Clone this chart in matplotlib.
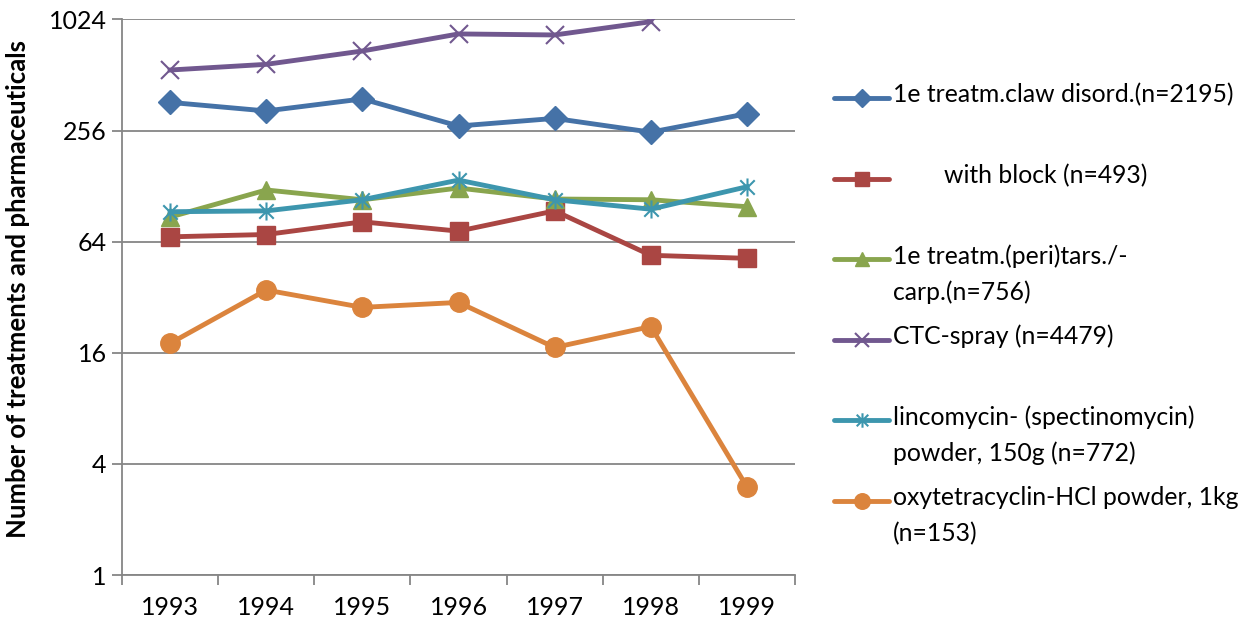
import matplotlib.pyplot as plt
import numpy as np
from matplotlib.path import Path
from matplotlib.lines import Line2D

years = ["1993", "1994", "1995", "1996", "1997", "1998", "1999"]

claw = [364, 327, 380, 271, 298, 251, 316]
block = [68, 70, 82, 73, 94, 54, 52]
tarsal = [87, 122, 108, 125, 109, 108, 99]
ctc = [545, 585, 691, 855, 844, 996, np.nan]
linco = [93, 94, 108, 138, 108, 96, 127]
oxy = [18.0, 35.0, 28.2, 30.0, 17.1, 22.2, 3.0]

labels = [
    "1e treatm.claw disord.(n=2195)",
    "        with block (n=493)",
    "1e treatm.(peri)tars./-\ncarp.(n=756)",
    "CTC-spray (n=4479)",
    "lincomycin- (spectinomycin)\npowder, 150g (n=772)",
    "oxytetracyclin-HCl powder, 1kg\n(n=153)",
]

# asterisk marker: vertical stroke plus an x
star = Path([(0, -1), (0, 1), (-0.8, -0.8), (0.8, 0.8), (-0.8, 0.8), (0.8, -0.8)],
            [Path.MOVETO, Path.LINETO] * 3)

styles = [
    dict(color="#4572A7", marker="D", ms=12),
    dict(color="#AA4643", marker="s", ms=13),
    dict(color="#89A54E", marker="^", ms=13),
    dict(color="#71588F", marker="x", ms=13, mew=1.5),
    dict(color="#3D96AE", marker=star, ms=13, mew=1.5),
    dict(color="#DB843D", marker="o", ms=14),
]
series = [claw, block, tarsal, ctc, linco, oxy]

plt.rcParams["font.family"] = ["Lato", "DejaVu Sans"]

fig = plt.figure(figsize=(12.45, 6.24), dpi=100)
ax = fig.add_axes([0.098, 0.0785, 0.5406, 0.8903])

x = np.arange(len(years))
for vals, st in zip(series, styles):
    ax.plot(x, vals, color=st["color"], lw=3.5, marker=st["marker"],
            ms=st["ms"], mew=st.get("mew", 1), mec=st["color"],
            mfc=st["color"], zorder=3)

ax.set_yscale("log", base=2)
ax.set_ylim(1, 1024)
yt = [1, 4, 16, 64, 256, 1024]
ax.set_yticks(yt)
ax.set_yticklabels([str(v) for v in yt])
ax.minorticks_off()
ax.yaxis.grid(True, color="#868686", lw=1.3)
ax.set_axisbelow(True)

ax.set_xlim(-0.5, len(years) - 0.5)
ax.set_xticks(np.arange(-0.5, len(years)), minor=False)
ax.set_xticklabels([])
ax.set_xticks(x, minor=True)
ax.set_xticklabels(years, minor=True)
ax.tick_params(axis="x", which="major", length=7, color="#868686", width=1.3)
ax.tick_params(axis="x", which="minor", length=0, pad=15, labelsize=18)
ax.tick_params(axis="y", length=7, color="#868686", width=1.3, labelsize=18, pad=4)

for s in ["top", "right"]:
    ax.spines[s].set_visible(False)
for s in ["left", "bottom"]:
    ax.spines[s].set_color("#868686")
    ax.spines[s].set_linewidth(1.3)

fig.text(0.0145, 1 - 289 / 624, "Number of treatments and pharmaceuticals",
         rotation=90, fontsize=18.5, fontweight="bold", ha="center", va="center")

# legend entries, evenly spaced, text hanging from the handle row
row_y = np.linspace(1 - 98 / 624, 1 - 501 / 624, len(labels))
for lab, st, yy in zip(labels, styles, row_y):
    ln = Line2D([834 / 1245, 889 / 1245], [yy, yy], transform=fig.transFigure,
                color=st["color"], lw=3.5, solid_capstyle="round")
    fig.add_artist(ln)
    mk = Line2D([861.5 / 1245], [yy], transform=fig.transFigure,
                color=st["color"], marker=st["marker"], ms=st["ms"] * 0.8,
                mew=st.get("mew", 1), mec=st["color"], mfc=st["color"])
    fig.add_artist(mk)
    fig.text(893 / 1245, yy + 15 / 624, lab, fontsize=17.8, ha="left", va="top",
             linespacing=1.65)

fig.savefig("out.png", dpi=100)
